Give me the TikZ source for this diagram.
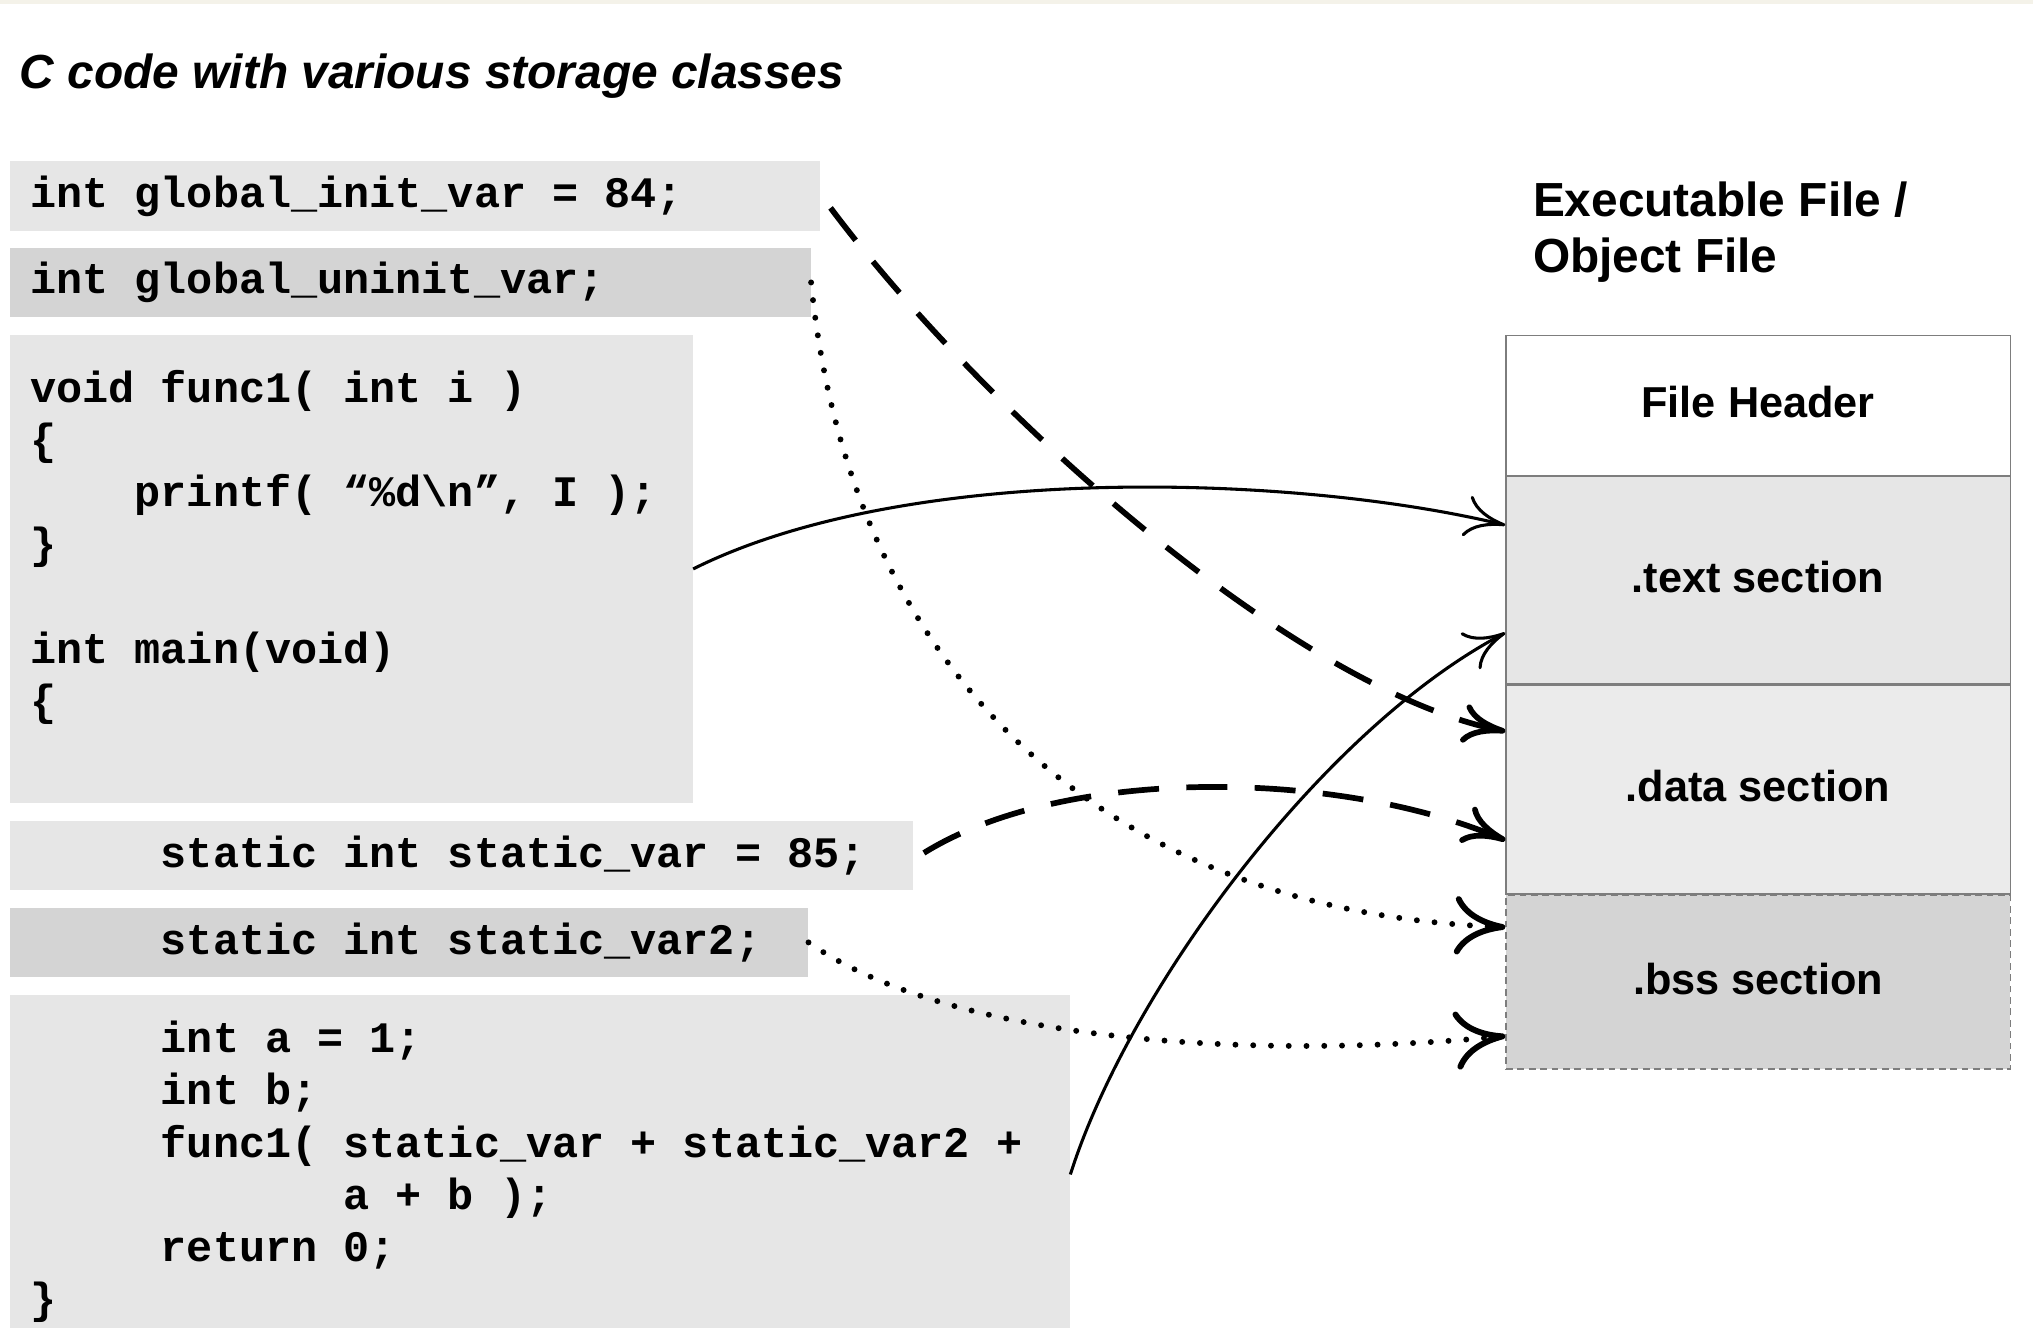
\documentclass[tikz,border=0pt]{standalone}
\usepackage{fontspec}
\setmainfont{Liberation Sans}
\newfontfamily\codefont{Liberation Mono}
\usetikzlibrary{arrows.meta,positioning}
\definecolor{codelight}{RGB}{230,230,230}
\definecolor{codedark}{RGB}{212,212,212}
\definecolor{secline}{RGB}{125,125,125}
\definecolor{topband}{RGB}{244,242,233}
\newlength{\codew}\setlength{\codew}{11.46pt}
\newcommand{\codeind}[1]{\hspace*{#1\codew}}
\newcommand{\codestyle}{\codefont\bfseries\fontsize{19.1}{22.9}\selectfont\frenchspacing}
\newcommand{\codespaces}{\spaceskip=\codew\relax\xspaceskip=\codew\relax}
\begin{document}
\begin{tikzpicture}[x=0.02cm,y=-0.02cm]
        % Styles
        \tikzstyle{code box}=[anchor=north west,inner xsep=0.32cm,inner ysep=0pt,align=left,font=\codestyle,
            execute at begin node=\codespaces]
        \tikzstyle{light}=[code box,fill=codelight]
        \tikzstyle{dark}=[code box,fill=codedark]
        \tikzstyle{section}=[draw=secline,line width=0.6pt,minimum width=7.78cm,inner sep=0pt,text depth=3pt,
            font=\bfseries\fontsize{19}{22}\selectfont]
        \tikzstyle{solid link}=[line width=1.35pt,-{Computer Modern Rightarrow[length=0.62cm,width=0.64cm]}]
        \tikzstyle{dashed link}=[line width=2.5pt,dash pattern=on 18pt off 12pt,
            -{Computer Modern Rightarrow[length=0.66cm,width=0.6cm]}]
        \tikzstyle{dotted link}=[line width=2.6pt,line cap=round,dash pattern=on 0pt off 7.8pt,
            -{Computer Modern Rightarrow[length=0.78cm,width=0.9cm]}]
        %The graphic
        \useasboundingbox (0,0) rectangle (1568,1024);
        \fill[topband] (0,0) rectangle (1568,3);
        \node[anchor=north west,inner sep=0pt,font=\bfseries\itshape\fontsize{21}{25}\selectfont]
            (title) at (15,41) {C code with various storage classes};
        %code
        \node[light,text width=11.86cm,minimum height=1.08cm] (gi) at (7,124)
            {int global\_init\_var = 84;};
        \node[dark,text width=11.72cm,minimum height=1.06cm] (gu) at (7,191)
            {int global\_uninit\_var;};
        \node[light,text width=9.9cm,minimum height=7.22cm] (fn) at (7,258)
            {void func1( int i )\\ \{\\ \codeind{4}printf( “\%d\textbackslash n”, I );\\ \}\\ \mbox{}\\
             int main(void)\\ \{\\ \mbox{}};
        \node[light,text width=13.3cm,minimum height=1.06cm] (sv) at (7,633)
            {\codeind{5}static int static\_var = 85;};
        \node[dark,text width=11.68cm,minimum height=1.06cm] (svt) at (7,700)
            {\codeind{5}static int static\_var2;};
        \node[light,text width=15.72cm,minimum height=5.46cm] (mn) at (7,767)
            {\codeind{5}int a = 1;\\ \codeind{5}int b;\\ \codeind{5}func1( static\_var + static\_var2 +\\
             \codeind{12}a + b );\\ \codeind{5}return 0;\\ \}};
        %file
        \node[anchor=north west,inner sep=0pt,align=left,font=\bfseries\fontsize{21}{24.5}\selectfont]
            (exe) at (1182,140) {Executable File /\\Object File};
        \node[section,anchor=north west,fill=white,minimum height=2.16cm] (fh) at (1161,258) {File Header};
        \node[section,below=0pt of fh,fill=codelight,minimum height=3.2cm] (ts) {.text section};
        \node[section,below=0pt of ts,fill=codelight!80!white,minimum height=3.22cm] (ds) {.data section};
        \node[section,below=0pt of ds,fill=codedark,dash pattern=on 3pt off 2pt,minimum height=2.68cm] (bs) {.bss section};
        %links
        \draw[solid link] (fn.east) .. controls +(166,-83) and +(-161,-39) .. ([yshift=-0.76cm]ts.north west);
        \draw[solid link] ([yshift=-0.04cm]mn.east) .. controls +(45,-142) and +(-141,74) .. ([yshift=0.8cm]ts.south west);
        \draw[dashed link] ([xshift=0.16cm,yshift=-0.18cm]gi.east) .. controls +(120,160) and +(-161,-32) .. ([yshift=-0.72cm]ds.north west);
        \draw[dashed link] ([xshift=0.16cm,yshift=0.04cm]sv.east) .. controls +(108,-67) and +(-131,-55) .. ([yshift=0.84cm]ds.south west);
        \draw[dotted link] (gu.east) .. controls +(30,300) and +(-311,-12) .. ([yshift=-0.5cm]bs.north west);
        \draw[dotted link] (svt.east) .. controls +(104,73) and +(-211,20) .. ([yshift=0.52cm]bs.south west);
\end{tikzpicture}
\end{document}
